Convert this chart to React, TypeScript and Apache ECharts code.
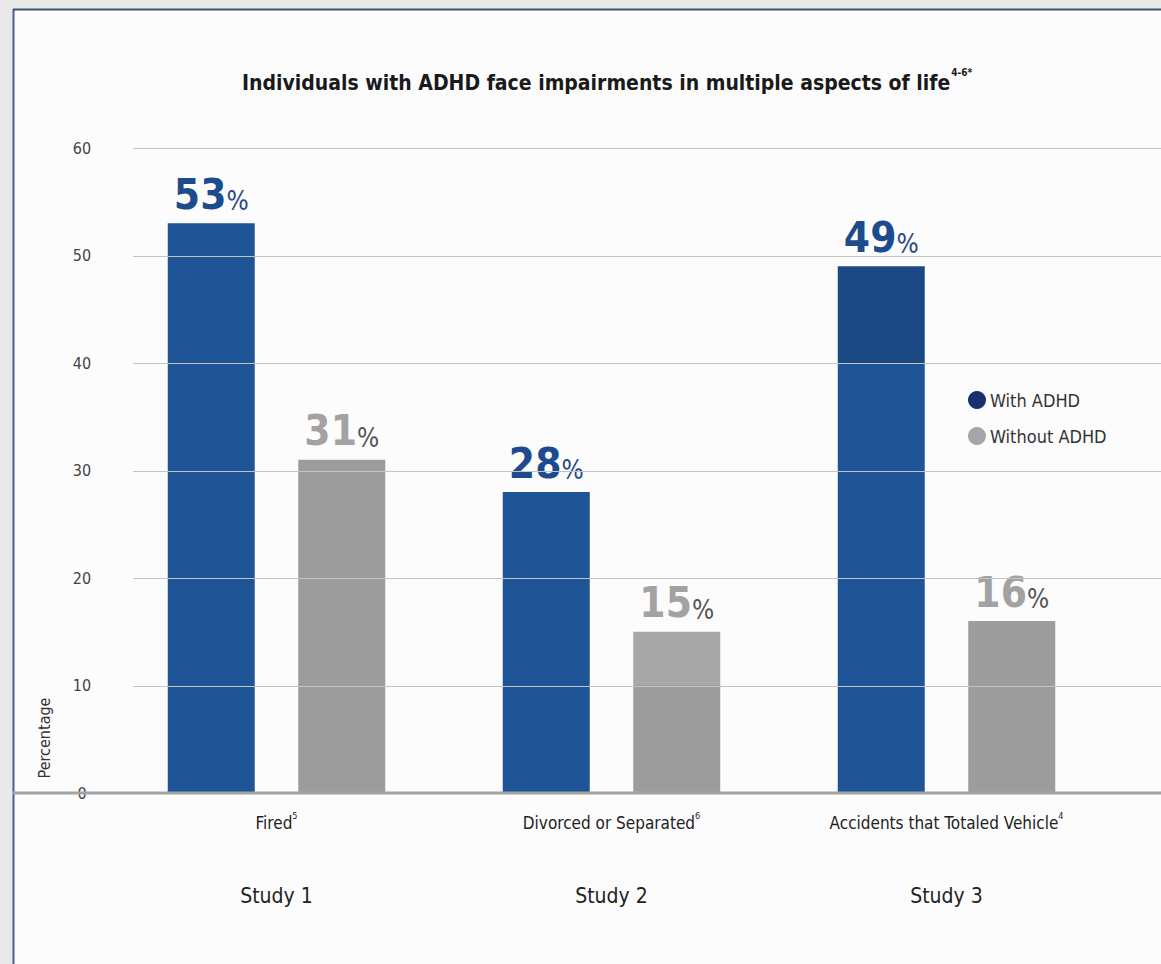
import React, { useEffect, useRef } from "react";
import * as echarts from "echarts";

const categories = ["Fired", "Divorced or Separated", "Accidents that Totaled Vehicle"];
const categoryRefs = ["5", "6", "4"];
const studies = ["Study 1", "Study 2", "Study 3"];
const withAdhd = [53, 28, 49];
const withoutAdhd = [31, 15, 16];
const yTicks = { min: 0, max: 60, interval: 10 };
const gridValues = [10, 20, 30, 40, 50, 60];

const FONT = "'Liberation Sans Narrow', 'DejaVu Sans Condensed', 'Roboto', sans-serif";
const BLUE = "#1f5597";
const BLUE_DARK = "#1b4984";
const GRAY = "#9c9c9c";
const GRAY_LIGHT = "#a8a8a8";
const GRID_COLOR = "#c4c4c4";

// two-tone fill: the part of the bar above `split` gets the top colour
const twoTone = (value: number, split: number, top: string, bottom: string) => {
  const f = Math.max(0, (value - split) / value);
  return new echarts.graphic.LinearGradient(0, 0, 0, 1, [
    { offset: 0, color: top },
    { offset: f, color: top },
    { offset: f, color: bottom },
    { offset: 1, color: bottom },
  ]);
};

export default function App() {
  const ref = useRef<HTMLDivElement>(null);

  useEffect(() => {
    if (!ref.current) return;
    const chart = echarts.init(ref.current, undefined, { renderer: "svg" });

    const valueLabel = (numColor: string, pctColor: string) => ({
      show: true,
      position: "top" as const,
      distance: 8,
      formatter: (p: any) => `{n|${p.value}}{p|%}`,
      rich: {
        n: { fontFamily: FONT, fontSize: 42, fontWeight: "bold", color: numColor, verticalAlign: "bottom", lineHeight: 42 },
        p: { fontFamily: FONT, fontSize: 26, color: pctColor, verticalAlign: "bottom", lineHeight: 30, padding: [0, 0, 1, 0] },
      },
    });

    const withData = withAdhd.map((v, i) =>
      i === 2 ? { value: v, itemStyle: { color: twoTone(v, 40, BLUE_DARK, BLUE) } } : v
    );
    const withoutData = withoutAdhd.map((v, i) =>
      i === 1 ? { value: v, itemStyle: { color: twoTone(v, 10, GRAY_LIGHT, GRAY) } } : v
    );

    const frame = [
      {
        id: "bg",
        type: "rect",
        z: -10,
        shape: { x: 13, y: 9, width: 1160, height: 960 },
        style: { fill: "#fcfcfc" },
      },
      {
        id: "frame-left",
        type: "line",
        z: -5,
        shape: { x1: 13.5, y1: 9, x2: 13.5, y2: 964 },
        style: { stroke: "#4a5d95", lineWidth: 2 },
      },
      {
        id: "frame-top",
        type: "line",
        z: -5,
        shape: { x1: 13, y1: 9.5, x2: 1161, y2: 9.5 },
        style: { stroke: "#3f5276", lineWidth: 2 },
      },
      {
        id: "baseline",
        type: "line",
        z: 20,
        shape: { x1: 12, y1: 793, x2: 1161, y2: 793 },
        style: { stroke: "#a3a3a3", lineWidth: 3 },
      },
      {
        id: "y-name",
        type: "text",
        x: 44,
        y: 738,
        rotation: Math.PI / 2,
        style: {
          text: "Percentage",
          fontFamily: FONT,
          fontSize: 16,
          fill: "#333",
          align: "center",
          verticalAlign: "middle",
        },
      },
    ];

    chart.setOption({
      animation: false,
      backgroundColor: "#e9e9e9",
      title: {
        text: "{t|Individuals with ADHD face impairments in multiple aspects of life}{s|4-6*}",
        left: 237,
        top: 60,
        textStyle: {
          rich: {
            t: { fontFamily: FONT, fontSize: 21, fontWeight: "bold", color: "#1a1a1a", lineHeight: 28, verticalAlign: "bottom" },
            s: { fontFamily: FONT, fontSize: 10, color: "#1a1a1a", verticalAlign: "top", lineHeight: 28, padding: [2, 0, 0, 1] },
          },
        },
      },
      graphic: frame,
      legend: {
        orient: "vertical",
        left: 963,
        top: 386,
        icon: "circle",
        itemWidth: 18,
        itemHeight: 18,
        itemGap: 18,
        textStyle: { fontFamily: FONT, fontSize: 18, color: "#333", padding: [0, 0, 0, -1] },
        data: [
          { name: "With ADHD", itemStyle: { color: "#1a2f6e" } },
          { name: "Without ADHD", itemStyle: { color: "#a5a5a5" } },
        ],
      },
      grid: [
        { left: 133, right: 0, top: 148, bottom: 171 },
        { left: 109, right: 47, top: 148, bottom: 171 },
      ],
      xAxis: [
        { gridIndex: 0, type: "value", min: 0, max: 1, show: false },
        {
          gridIndex: 1,
          type: "category",
          data: categories,
          axisLine: { show: false },
          axisTick: { show: false },
          axisLabel: {
            margin: 18,
            formatter: (v: string) => `{n|${v}}{s|${categoryRefs[categories.indexOf(v)]}}`,
            rich: {
              n: { fontFamily: FONT, fontSize: 17, color: "#222", lineHeight: 20, verticalAlign: "bottom" },
              s: { fontFamily: FONT, fontSize: 9, color: "#222", lineHeight: 20, verticalAlign: "top" },
            },
          },
        },
        {
          gridIndex: 1,
          type: "category",
          position: "bottom",
          offset: 0,
          data: studies,
          axisLine: { show: false },
          axisTick: { show: false },
          axisLabel: { margin: 92, fontFamily: FONT, fontSize: 21, color: "#222" },
        },
      ],
      yAxis: [
        {
          gridIndex: 0,
          type: "value",
          ...yTicks,
          axisLine: { show: false },
          axisTick: { show: false },
          axisLabel: { margin: 51, align: "center", fontFamily: FONT, fontSize: 16, color: "#444" },
          splitLine: { show: false },
        },
        {
          gridIndex: 1,
          type: "value",
          ...yTicks,
          show: false,
          splitLine: { show: false },
        },
      ],
      series: [
        {
          name: "With ADHD",
          type: "bar",
          xAxisIndex: 1,
          yAxisIndex: 1,
          data: withData,
          barWidth: 87,
          barGap: "50%",
          itemStyle: { color: BLUE },
          label: valueLabel("#1d4c8e", "#2b4a86"),
        },
        {
          name: "Without ADHD",
          type: "bar",
          xAxisIndex: 1,
          yAxisIndex: 1,
          data: withoutData,
          barWidth: 87,
          barGap: "50%",
          itemStyle: { color: GRAY },
          label: valueLabel("#a2a2a2", "#555555"),
        },
      ],
    });

    // horizontal rules at each tick value, placed through the value scale and drawn over the bars
    const xStart = chart.convertToPixel({ xAxisIndex: 0 }, 0) as number;
    const xEnd = chart.convertToPixel({ xAxisIndex: 0 }, 1) as number;
    const rules = gridValues.map((v) => {
      const y = Math.round(chart.convertToPixel({ yAxisIndex: 0 }, v) as number) + 0.5;
      return {
        id: `rule-${v}`,
        type: "line",
        z: 50,
        silent: true,
        shape: { x1: xStart, y1: y, x2: xEnd, y2: y },
        style: { stroke: GRID_COLOR, lineWidth: 1 },
      };
    });
    chart.setOption({ graphic: [...frame, ...rules] });

    return () => chart.dispose();
  }, []);

  return (
    <div
      ref={ref}
      style={{ position: "absolute", left: 0, top: 0, width: 1161, height: 964 }}
    />
  );
}
